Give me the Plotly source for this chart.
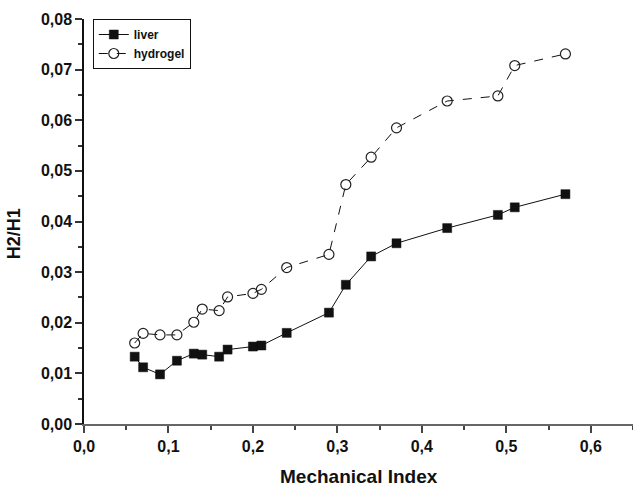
import plotly.graph_objects as go

mechanical_index = [0.06, 0.07, 0.09, 0.11, 0.13, 0.14, 0.16, 0.17, 0.20, 0.21,
                    0.24, 0.29, 0.31, 0.34, 0.37, 0.43, 0.49, 0.51, 0.57]
liver = [0.0133, 0.0112, 0.0098, 0.0125, 0.0139, 0.0137, 0.0133, 0.0147, 0.0153, 0.0155,
         0.0180, 0.0220, 0.0275, 0.0331, 0.0357, 0.0387, 0.0413, 0.0428, 0.0454]
hydrogel = [0.0160, 0.0179, 0.0176, 0.0176, 0.0201, 0.0227, 0.0224, 0.0251, 0.0258, 0.0266,
            0.0309, 0.0335, 0.0473, 0.0527, 0.0585, 0.0638, 0.0648, 0.0708, 0.0731]

x_title = "Mechanical Index"
y_title = "H2/H1"

FONT = "Liberation Sans, Arial, sans-serif"
INK = "#111111"

fig = go.Figure()
fig.add_trace(go.Scatter(
    x=mechanical_index, y=liver, name="liver", mode="lines+markers",
    line=dict(color=INK, width=1),
    marker=dict(symbol="square", size=9, color=INK, line=dict(color=INK, width=0.5)),
))
fig.add_trace(go.Scatter(
    x=mechanical_index, y=hydrogel, name="hydrogel", mode="lines+markers",
    line=dict(color=INK, width=1, dash="dash"),
    marker=dict(symbol="circle-open", size=10, color="#222222",
                line=dict(color="#222222", width=1.2)),
))

fig.update_layout(
    width=633, height=488,
    margin=dict(l=84, r=0, t=19, b=64, autoexpand=False),
    paper_bgcolor="white", plot_bgcolor="white",
    separators=",.",
    font=dict(family=FONT, color=INK),
    showlegend=True,
    legend=dict(
        x=0.016, y=1.0, xanchor="left", yanchor="top",
        bordercolor=INK, borderwidth=1, bgcolor="white",
        font=dict(family=FONT, size=12, weight="bold", color=INK),
        tracegroupgap=0, itemwidth=30,
    ),
    annotations=[
        dict(text=x_title, xref="paper", yref="paper", x=0.5, y=-0.130,
             xanchor="center", yanchor="middle", showarrow=False,
             font=dict(family=FONT, size=19, weight="bold", color=INK)),
        dict(text=y_title, xref="paper", yref="paper", x=-0.127, y=0.469,
             xanchor="center", yanchor="middle", showarrow=False, textangle=-90,
             font=dict(family=FONT, size=18, weight="bold", color=INK)),
    ],
)

fig.update_xaxes(
    range=[0, 0.65], dtick=0.1, tick0=0, tickformat=".1f",
    automargin=False,
    showgrid=False, zeroline=False,
    showline=True, linecolor="#666666", linewidth=2,
    ticks="outside", ticklen=7, tickwidth=1.5, tickcolor="#444444",
    minor=dict(ticks="outside", ticklen=4, dtick=0.05, tick0=0, tickcolor="#444444", tickwidth=1.5),
    tickfont=dict(family=FONT, size=16, weight="bold", color=INK),
)
fig.update_yaxes(
    range=[0, 0.08], dtick=0.01, tick0=0, tickformat=".2f",
    automargin=False,
    showgrid=False, zeroline=False,
    showline=True, linecolor=INK, linewidth=1.5,
    ticks="outside", ticklen=7, tickwidth=1.5, tickcolor="#333333",
    minor=dict(ticks="outside", ticklen=4, dtick=0.005, tick0=0, tickcolor="#333333", tickwidth=1.5),
    tickfont=dict(family=FONT, size=16, weight="bold", color=INK),
)

fig.write_html(
    "out.html",
    config={"displayModeBar": False},
    post_script="document.body.style.margin='0';document.body.style.overflow='hidden';",
)
